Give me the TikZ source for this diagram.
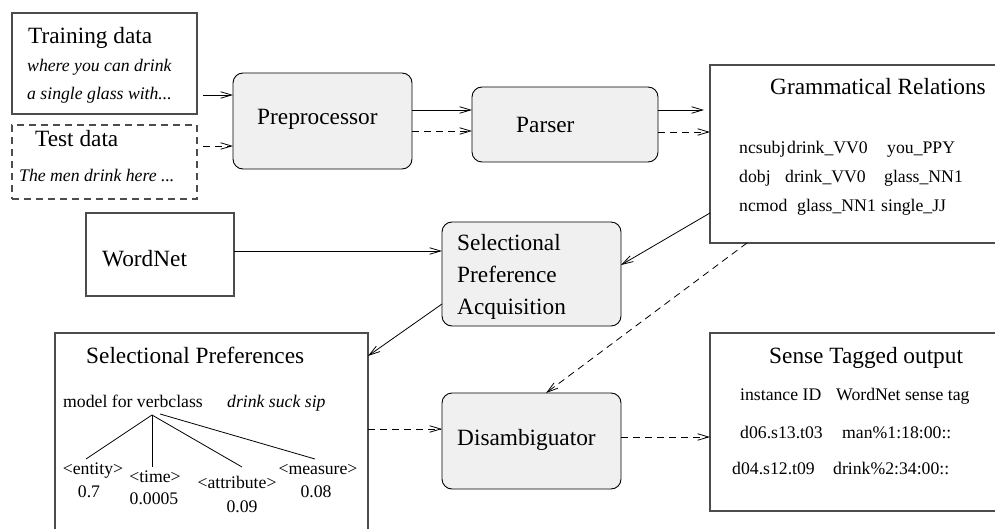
\documentclass[tikz,border=0pt]{standalone}
\usepackage{fontspec}
\setmainfont{Liberation Serif}
\usetikzlibrary{arrows.meta,calc}
\newcommand{\smallf}{\fontsize{17.7}{20}\selectfont}
\newcommand{\bigf}{\fontsize{23.3}{26}\selectfont}
\tikzset{
  plainbox/.style={draw=black!70, line width=1.2pt, inner sep=0pt, outer sep=0pt},
  procbox/.style={draw=black, line width=0.9pt, fill=black!6, rounded corners=10pt, inner sep=0pt, outer sep=0pt},
  lab/.style={inner sep=0pt, anchor=base west, font=\smallf},
  clab/.style={inner sep=0pt, anchor=base, font=\smallf},
  ttl/.style={inner sep=0pt, anchor=base west, font=\bigf},
  arr/.style={-{Straight Barb[length=11pt,width=6.5pt]}, line width=0.8pt},
  dsh/.style={dash pattern=on 7pt off 5pt},
  tree/.style={line width=0.8pt}
}
\begin{document}
\begin{tikzpicture}[x=1pt,y=-1pt]
\useasboundingbox (0,0) rectangle (995,529);
% boxes
\node[plainbox, minimum width=185pt, minimum height=101pt] (train) at (104.5,63.5) {};
\node[plainbox, dsh, minimum width=185pt, minimum height=74pt] (test) at (104.5,162) {};
\node[procbox, minimum width=179pt, minimum height=96pt] (prep) at (322.5,121) {};
\node[procbox, minimum width=186pt, minimum height=75pt] (parser) at (565,124.5) {};
\node[plainbox, minimum width=286pt, minimum height=178pt] (gr) at (853,154) {};
\node[plainbox, minimum width=148pt, minimum height=83pt] (wordnet) at (160,254.5) {};
\node[procbox, minimum width=179pt, minimum height=104pt] (spa) at (531.5,274) {};
\node[plainbox, minimum width=313pt, minimum height=215pt] (selpref) at (211.5,440.5) {};
\node[procbox, minimum width=179pt, minimum height=96pt] (disamb) at (531.5,441) {};
\node[plainbox, minimum width=286pt, minimum height=178pt] (sense) at (853,422) {};

% texts
\node[ttl] (ttrain) at (28,44) {Training data};
\node[lab] (ttrain1) at (27,72) {\itshape where you can drink};
\node[lab] (ttrain2) at (27,100) {\itshape a single glass with...};
\node[ttl] (ttest) at (35,147) {Test data};
\node[lab] (ttest1) at (19,182) {\itshape The men drink here ...};
\node[ttl] (tprep) at (257,125) {Preprocessor};
\node[ttl] (tparser) at (516,133) {Parser};
\node[ttl] (tgr) at (770,95) {Grammatical Relations};
\node[lab] (g1a) at (739,154) {ncsubj};
\node[lab] (g1b) at (787,154) {drink\_VV0};
\node[lab] (g1c) at (887,154) {you\_PPY};
\node[lab] (g2a) at (739,183) {dobj};
\node[lab] (g2b) at (785,183) {drink\_VV0};
\node[lab] (g2c) at (884,183) {glass\_NN1};
\node[lab] (g3a) at (739,212) {ncmod};
\node[lab] (g3b) at (797,212) {glass\_NN1};
\node[lab] (g3c) at (881,212) {single\_JJ};
\node[ttl] (twn) at (102,266) {WordNet};
\node[ttl] (tspa1) at (457,251) {Selectional};
\node[ttl] (tspa2) at (457,282) {Preference};
\node[ttl] (tspa3) at (457,314) {Acquisition};
\node[ttl] (tsp) at (86,363) {Selectional Preferences};
\node[lab] (tmodel) at (63,407) {model for verbclass};
\node[lab] (tverbs) at (227,407) {\itshape drink suck sip};
\node[clab] (ent) at (93,474) {<entity>};
\node[clab] (entv) at (89,497) {0.7};
\node[clab] (tim) at (155,482) {<time>};
\node[clab] (timv) at (154,504) {0.0005};
\node[clab] (att) at (237,488) {<attribute>};
\node[clab] (attv) at (242,512) {0.09};
\node[clab] (mea) at (318,474) {<measure>};
\node[clab] (meav) at (316,497) {0.08};
\node[ttl] (tdis) at (457,445) {Disambiguator};
\node[ttl] (tsense) at (769,363) {Sense Tagged output};
\node[lab] (s0a) at (740,400) {instance ID};
\node[lab] (s0b) at (836,400) {WordNet sense tag};
\node[lab] (s1a) at (740,438) {d06.s13.t03};
\node[lab] (s1b) at (842,438) {man\%1:18:00::};
\node[lab] (s2a) at (732,474) {d04.s12.t09};
\node[lab] (s2b) at (833,474) {drink\%2:34:00::};

% tree
\coordinate (root) at (152,415);
\coordinate (root2) at (160,414);
\coordinate (entT) at (86,459);
\coordinate (timT) at (152,467);
\coordinate (attT) at (242,467);
\coordinate (meaT) at (315,459);
\draw[tree] (root) -- (entT);
\draw[tree] (root) -- (timT);
\draw[tree] (root) -- (attT);
\draw[tree] (root2) -- (meaT);

% connectors
\draw[arr] ($(train.east |- 0,95)+(6,0)$) -- (prep.west |- 0,95);
\draw[arr,dsh] ($(test.east |- 0,146)+(6,0)$) -- (prep.west |- 0,146);
\draw[arr] (prep.east |- 0,110) -- (parser.west |- 0,110);
\draw[arr,dsh] (prep.east |- 0,131) -- (parser.west |- 0,131);
\draw[arr] (parser.east |- 0,110) -- ($(gr.west |- 0,110)+(-6,0)$);
\draw[arr,dsh] (parser.east |- 0,132) -- (gr.west |- 0,132);
\draw[arr] (wordnet.east |- 0,251) -- (spa.west |- 0,251);
\draw[arr] (gr.west |- 0,213) -- (spa.east |- 0,265);
\draw[arr] (spa.west |- 0,304) -- (selpref.east |- 0,356);
\draw[arr,dsh] (selpref.east |- 0,429) -- (disamb.west |- 0,429);
\draw[arr,dsh] (disamb.east |- 0,437) -- (sense.west |- 0,437);
\draw[arr,dsh] (gr.south -| 747,0) -- (disamb.north -| 546,0);
\end{tikzpicture}
\end{document}
